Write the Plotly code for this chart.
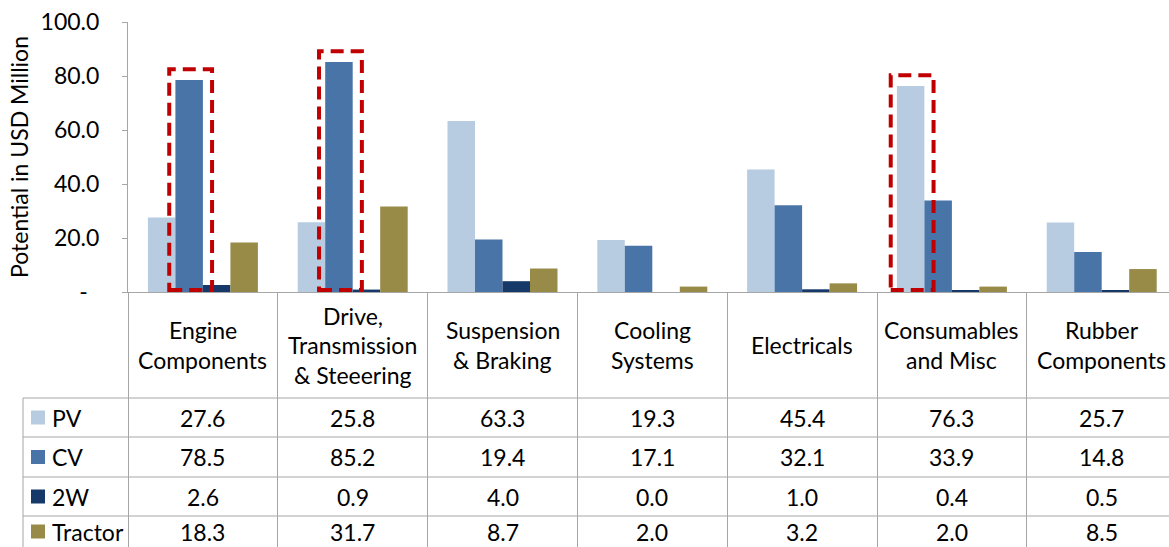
import plotly.graph_objects as go

# Component groups (x categories) and their header labels, one list entry per line
categories = ["Engine Components", "Drive, Transmission & Steeering", "Suspension & Braking",
              "Cooling Systems", "Electricals", "Consumables and Misc", "Rubber Components"]
header_lines = [["Engine", "Components"], ["Drive,", "Transmission", "& Steeering"],
                ["Suspension", "& Braking"], ["Cooling", "Systems"], ["Electricals"],
                ["Consumables", "and Misc"], ["Rubber", "Components"]]

# Potential in USD million per vehicle segment
pv = [27.6, 25.8, 63.3, 19.3, 45.4, 76.3, 25.7]
cv = [78.5, 85.2, 19.4, 17.1, 32.1, 33.9, 14.8]
two_w = [2.6, 0.9, 4.0, 0.0, 1.0, 0.4, 0.5]
tractor = [18.3, 31.7, 8.7, 2.0, 3.2, 2.0, 8.5]

series_names = ["PV", "CV", "2W", "Tractor"]
series_values = [pv, cv, two_w, tractor]
series_colors = ["#b8cce1", "#4874a8", "#17396a", "#988b48"]

# Highlighted bars: (category index, series index)
highlights = [(0, 1), (1, 1), (5, 0)]

y_ticks = [0, 20, 40, 60, 80, 100]
y_tick_text = ["-\u2002", "20.0", "40.0", "60.0", "80.0", "100.0"]

FONT = "Lato"
FS = 23
W, H = 1169, 547
L, R, T, B = 128, 1169, 22, 292
CAT_W = 149.8
GRID = "#a6a6a6"


def px_x(px):
    return (px - L) / (R - L)


def px_y(py):
    return (B - py) / (B - T)


fig = go.Figure()
for name, vals, col in zip(series_names, series_values, series_colors):
    fig.add_trace(go.Bar(name=name, x=categories, y=vals, marker=dict(color=col, line=dict(width=0))))

shapes = []
annotations = []

# Dashed boxes around highlighted bars
n_series = len(series_names)
bargap = 1 - 110 / CAT_W
bar_w = (1 - bargap) / n_series
for ci, si in highlights:
    centre = ci + (si - (n_series - 1) / 2) * bar_w + 0.01
    top = series_values[si][ci] + 4
    shapes.append(dict(type="rect", xref="x", yref="y", x0=centre - 0.143, x1=centre + 0.143,
                       y0=0.7, y1=top, line=dict(color="#c00000", width=4, dash="13px,7px"),
                       fillcolor="rgba(0,0,0,0)", layer="above"))

# Table grid below the axis
row_lines = [398, 437, 477, 516]
for py in row_lines:
    shapes.append(dict(type="line", xref="paper", yref="paper", x0=px_x(23), x1=1.0,
                       y0=px_y(py), y1=px_y(py), line=dict(color=GRID, width=1)))
shapes.append(dict(type="line", xref="paper", yref="paper", x0=px_x(23), x1=px_x(23),
                   y0=px_y(398), y1=px_y(H + 5), line=dict(color=GRID, width=1)))

# Header labels, one annotation per line
LINE_H = 29.5
for i, lines in enumerate(header_lines):
    n = len(lines)
    for k, txt in enumerate(lines):
        yc = 345 + (k - (n - 1) / 2) * LINE_H
        annotations.append(dict(xref="x", yref="paper", x=i, y=px_y(yc), text=txt, showarrow=False,
                                xanchor="center", yanchor="middle",
                                font=dict(family=FONT, size=FS, color="#000")))

# Data rows with colour keys
row_centres = [417.5, 457, 496.5, 531.5]
for name, vals, col, yc in zip(series_names, series_values, series_colors, row_centres):
    shapes.append(dict(type="rect", xref="paper", yref="paper", x0=px_x(31), x1=px_x(45),
                       y0=px_y(yc + 7), y1=px_y(yc - 7), line=dict(width=0), fillcolor=col))
    annotations.append(dict(xref="paper", yref="paper", x=px_x(50), y=px_y(yc), text=name,
                            showarrow=False, xanchor="left", yanchor="middle",
                            font=dict(family=FONT, size=FS, color="#000")))
    for i, v in enumerate(vals):
        annotations.append(dict(xref="x", yref="paper", x=i, y=px_y(yc), text=f"{v:.1f}",
                                showarrow=False, xanchor="center", yanchor="middle",
                                font=dict(family=FONT, size=FS, color="#000")))

fig.update_layout(
    width=W, height=H,
    margin=dict(l=L, r=W - R, t=T, b=H - B, pad=0, autoexpand=False),
    paper_bgcolor="white", plot_bgcolor="white",
    barmode="group", bargap=bargap, bargroupgap=0,
    showlegend=False,
    shapes=shapes, annotations=annotations,
    font=dict(family=FONT, size=FS, color="#000"),
)
fig.update_xaxes(
    range=[-0.5, -0.5 + (R - L) / CAT_W], showticklabels=False, showgrid=False,
    showline=True, linecolor=GRID, linewidth=1, automargin=False,
    ticks="outside", tickson="boundaries", ticklen=H - B + 5, tickcolor=GRID, tickwidth=1,
    fixedrange=True,
)
fig.update_yaxes(
    range=[0, 100], tickvals=y_ticks, ticktext=y_tick_text, showgrid=False, zeroline=False,
    showline=True, linecolor=GRID, linewidth=1, ticks="outside", ticklen=5, tickcolor=GRID,
    ticklabelstandoff=18, automargin=False,
    tickfont=dict(family=FONT, size=FS, color="#000"),
    title=dict(text="Potential in USD Million", font=dict(family=FONT, size=FS, color="#000"), standoff=5),
    fixedrange=True,
)

fig.write_html("out.html")
